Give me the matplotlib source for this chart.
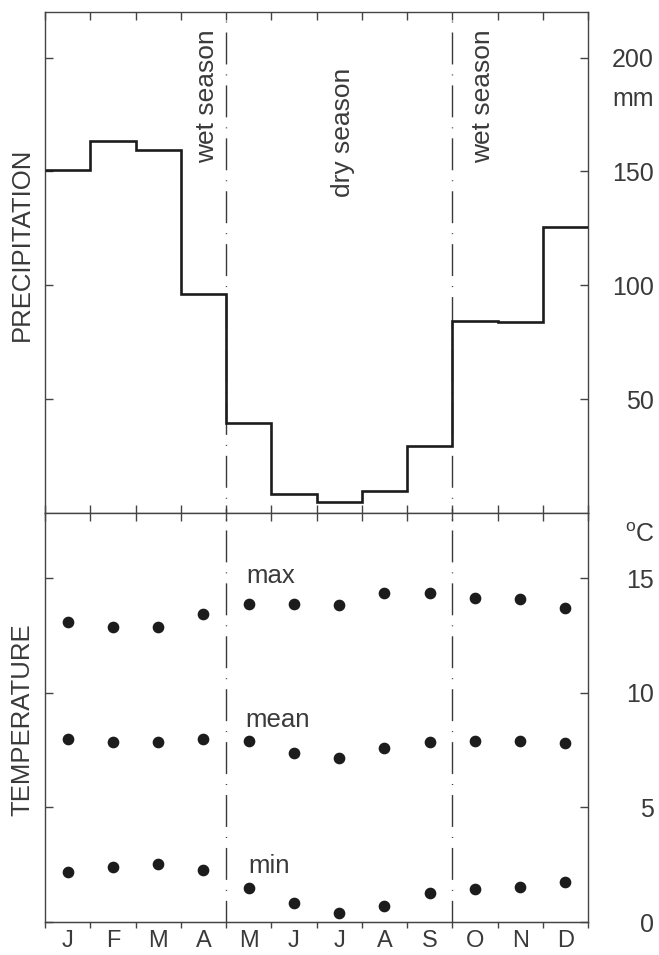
import matplotlib
matplotlib.use("Agg")
import matplotlib.pyplot as plt
import numpy as np

plt.rcParams['font.family'] = ['Liberation Sans', 'DejaVu Sans']
plt.rcParams['mathtext.fontset'] = 'custom'
plt.rcParams['mathtext.rm'] = 'Liberation Sans'

# monthly data
months = ['J', 'F', 'M', 'A', 'M', 'J', 'J', 'A', 'S', 'O', 'N', 'D']
precip_mm = [150.5, 163.5, 159.5, 96, 39.5, 8.4, 4.8, 9.7, 29.5, 84.1, 83.7, 125.5]
t_max = [13.1, 12.9, 12.9, 13.45, 13.9, 13.9, 13.85, 14.35, 14.35, 14.15, 14.1, 13.7]
t_mean = [8.0, 7.85, 7.85, 8.0, 7.9, 7.4, 7.15, 7.6, 7.85, 7.9, 7.9, 7.8]
t_min = [2.2, 2.4, 2.55, 2.25, 1.5, 0.85, 0.4, 0.7, 1.25, 1.45, 1.55, 1.75]

precip_ticks = [50, 100, 150, 200]
temp_ticks = [0, 5, 10, 15]
season_bounds = [4, 9]   # end of April, end of September

ink = '#1c1c1c'
grey = '#3a3a3a'
fs = 18

W_PX, H_PX = 659, 955
fig = plt.figure(figsize=(W_PX / 100, H_PX / 100), dpi=100, facecolor='white')
left, right = 45 / W_PX, 588 / W_PX
ax1 = fig.add_axes([left, 1 - 513 / H_PX, right - left, 501 / H_PX])
ax2 = fig.add_axes([left, 1 - 922 / H_PX, right - left, 409 / H_PX])

edges = np.arange(len(months) + 1)
centers = edges[:-1] + 0.5

# ---- precipitation panel
ax1.stairs(precip_mm, edges, baseline=None, color=ink, linewidth=1.9, zorder=3)
ax1.set_xlim(0, 12)
ax1.set_ylim(0, 220)

# ---- temperature panel
for series in (t_max, t_mean, t_min):
    ax2.plot(centers, series, 'o', color=ink, markersize=7.4, zorder=3)
ax2.set_xlim(0, 12)
ax2.set_ylim(0, 17.86)

ax2.text(4.44, 14.8, 'max', fontsize=18.5, color=grey, va='baseline')
ax2.text(4.42, 8.5, 'mean', fontsize=18.5, color=grey, va='baseline')
ax2.text(4.49, 2.15, 'min', fontsize=18.5, color=grey, va='baseline')

# season boundaries (dash-dot), drawn top-down
for ax, off in ((ax1, 23.7), (ax2, 25.9)):
    for xb in season_bounds:
        ax.plot([xb, xb], [1, 0], transform=ax.get_xaxis_transform(),
                color=grey, linewidth=1.0, linestyle=(off, (23, 7.2, 0.7, 7.2)),
                zorder=2)

ax1.text(3.58, 183, 'wet season', rotation=90, ha='center', va='center',
         fontsize=19, color=grey)
ax1.text(6.59, 167, 'dry season', rotation=90, ha='center', va='center',
         fontsize=19, color=grey)
ax1.text(9.68, 183, 'wet season', rotation=90, ha='center', va='center',
         fontsize=19, color=grey)

# frame and ticks
for ax in (ax1, ax2):
    for sp in ax.spines.values():
        sp.set_color('#444444')
        sp.set_linewidth(1.0)
    ax.set_xticks(edges)
    ax.set_xticklabels([])

ax1.tick_params(axis='x', direction='in', top=True, bottom=True, length=5.5,
                width=1.0, color='#444444')
ax2.tick_params(axis='x', direction='in', top=True, bottom=False, length=6,
                width=1.0, color='#444444')

sec = ax2.secondary_xaxis('bottom')
sec.set_xticks(edges)
sec.set_xticks(centers, labels=months, minor=True)
sec.tick_params(axis='x', which='major', direction='out', length=4.5, width=1.0,
                color='#444444', labelbottom=False)
sec.tick_params(axis='x', which='minor', length=0, pad=6, labelsize=17,
                labelcolor=grey)
sec.spines['bottom'].set_color('#444444')

for ax, ticks in ((ax1, precip_ticks), (ax2, temp_ticks)):
    ax.set_yticks(ticks, labels=[str(t) for t in ticks])
    ax.tick_params(axis='y', direction='in', left=True, right=True,
                   labelleft=False, labelright=True, length=5.8, width=1.0,
                   color='#444444', labelsize=fs, labelcolor=grey, pad=47.5)
    for t in ax.yaxis.get_major_ticks():
        t.label2.set_horizontalalignment('right')

ax1.text(1.1215, 182, 'mm', transform=ax1.get_yaxis_transform(), ha='right',
         va='center', fontsize=fs, color=grey)
ax2.text(1.1235, 16.9, r'$^{\rm o}$C', transform=ax2.get_yaxis_transform(),
         ha='right', va='center', fontsize=fs, color=grey)

fig.text(22 / W_PX, 1 - 244 / H_PX, 'PRECIPITATION', rotation=90, ha='center',
         va='center', fontsize=18.5, color=grey)
fig.text(22 / W_PX, 1 - 720 / H_PX, 'TEMPERATURE', rotation=90, ha='center',
         va='center', fontsize=18.5, color=grey)

fig.savefig('out.png', dpi=100, facecolor='white')
